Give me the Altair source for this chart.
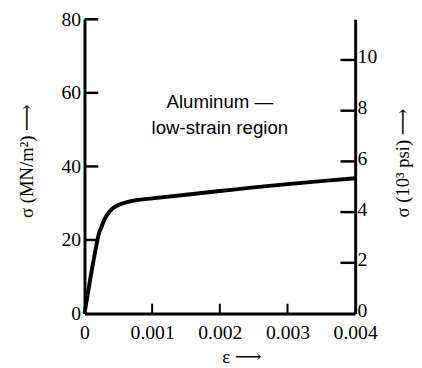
import altair as alt
import pandas as pd

# Strain (dimensionless) and stress (MN/m^2)
eps = [0, 0.00005, 0.0001, 0.00017, 0.00021, 0.00025, 0.0003, 0.0004, 0.0005,
       0.00065, 0.0008, 0.001, 0.0015, 0.002, 0.0025, 0.003, 0.0035, 0.004]
sigma = [0, 5.5, 11, 18, 21.5, 23.5, 25.8, 28.3, 29.5,
         30.4, 30.9, 31.3, 32.3, 33.3, 34.3, 35.2, 36.0, 36.8]

left_ticks = [0, 20, 40, 60, 80]
right_ticks = [0, 2, 4, 6, 8, 10]          # 10^3 psi
x_ticks = [0, 0.001, 0.002, 0.003, 0.004]
MPA_PER_KSI = 6.894757

ann_text = ["Aluminum —", "low-strain region"]
ann_eps = [0.002, 0.002]
ann_sigma = [57.6, 50.4]

W, H = 276, 300
SERIF = "Liberation Serif, DejaVu Serif, DejaVu Sans"

curve = pd.DataFrame({"eps": eps, "sigma": sigma})
lt = pd.DataFrame({"sigma": left_ticks[1:]})
bt = pd.DataFrame({"eps": x_ticks[1:-1]})
rt = pd.DataFrame({"ksi": right_ticks[1:]})
ann = pd.DataFrame({"eps": ann_eps, "sigma": ann_sigma, "t": ann_text})

xscale = alt.Scale(domain=[0, 0.004], nice=False, zero=False)
yscale = alt.Scale(domain=[0, 80], nice=False)

X = alt.X("eps:Q", scale=xscale,
          axis=alt.Axis(values=x_ticks, title="ε ⟶",
                        labelExpr="datum.value == 0 ? '0' : format(datum.value, '.3f')",
                        labelPadding=9, titleX=160, titleY=44, labelOverlap=False,
                        titleBaseline="middle", titleAlign="center"))
Y = alt.Y("sigma:Q", scale=yscale,
          axis=alt.Axis(values=left_ticks, title="σ (MN/m²) ⟶", orient="left",
                        labelPadding=4, titleAngle=270, titleX=-59, titleY=144,
                        titleBaseline="middle", titleAlign="center"))

line = alt.Chart(curve).mark_line(color="black", strokeWidth=4,
                                  interpolate="monotone").encode(x=X, y=Y)

lticks = alt.Chart(lt).mark_rule(color="black", strokeWidth=2.5).encode(
    y=Y, x=alt.value(0), x2=alt.value(14))

bticks = alt.Chart(bt).mark_rule(color="black", strokeWidth=2).encode(
    x=X, y=alt.value(H), y2=alt.value(H - 10))

text = alt.Chart(ann).mark_text(font="Liberation Sans, DejaVu Sans", fontSize=19,
                                color="black", align="center", baseline="middle").encode(
    x=X, y=Y, text="t:N")

rticks = alt.Chart(rt).mark_rule(color="black", strokeWidth=2.5).encode(
    y=alt.Y("ksi:Q", scale=alt.Scale(domain=[0, 80 / MPA_PER_KSI], nice=False),
            axis=alt.Axis(values=right_ticks, orient="right", title="σ (10³ psi) ⟶",
                          labelPadding=2, labelOffset=-3,
                          titleAngle=270, titleX=48, titleY=146,
                          titleBaseline="middle", titleAlign="center")),
    x=alt.value(W - 15), x2=alt.value(W))

chart = alt.layer(
    alt.layer(line, lticks, bticks, text),
    rticks,
).resolve_scale(y="independent").properties(
    width=W, height=H,
    autosize=alt.AutoSizeParams(type="none"),
    padding={"left": 78, "top": 8, "right": 60, "bottom": 52},
).configure_view(stroke=None).configure_axis(
    grid=False, ticks=False, domainColor="black", domainWidth=3,
    labelFlush=False,
    labelFont=SERIF, labelFontSize=20, labelColor="black",
    titleFont=SERIF, titleFontSize=19, titleFontWeight="normal", titleColor="black",
)

chart.save("out.html", embed_options={"renderer": "svg", "actions": False})
